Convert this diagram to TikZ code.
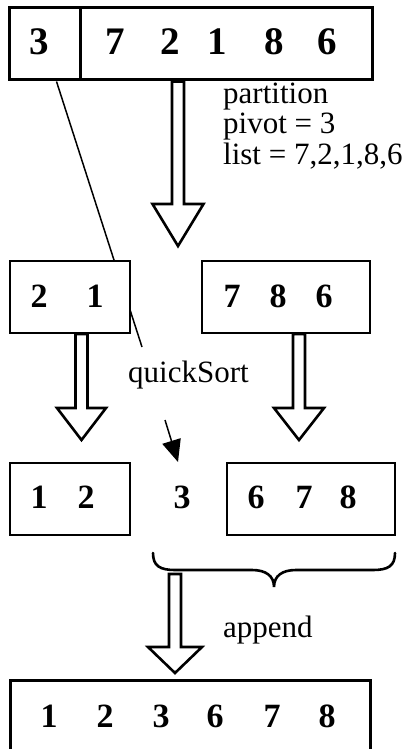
\documentclass[tikz,border=0pt]{standalone}
\usepackage{fontspec}
\setmainfont{Liberation Serif}
\usetikzlibrary{calc,arrows.meta}
\newcommand\blockarrow[4]{% tail, tip, head length, head half width
  \draw[barrow] let \p1=(#1), \p2=(#2) in
    (\x2-6pt,\y1) -- (\x2-6pt,\y2+#3) -- (\x2-#4,\y2+#3) -- (\x2,\y2)
    -- (\x2+#4,\y2+#3) -- (\x2+6pt,\y2+#3) -- (\x2+6pt,\y1) -- cycle;}
\begin{document}
\begin{tikzpicture}[x=1pt,y=-1pt,
  box/.style={draw,line width=2.2pt,fill=white,inner sep=0pt},
  bigbox/.style={box,line width=3pt},
  dig/.style={inner sep=0pt,anchor=base,font=\fontsize{34}{34}\selectfont\bfseries},
  bigdig/.style={dig,font=\fontsize{39}{39}\selectfont\bfseries},
  lbl/.style={inner sep=0pt,anchor=base west,font=\fontsize{31}{31}\selectfont},
  barrow/.style={draw,line width=2.6pt,fill=white,line join=miter},
  thinline/.style={line width=1.5pt}]
\useasboundingbox (0,0) rectangle (410,749);
\clip (0,0) rectangle (410,749);

% top list
\node[bigbox,minimum width=363pt,minimum height=72pt] (top) at (190.5,44) {};
\draw[line width=2.2pt] ([xshift=73pt]top.north west) -- ([xshift=73pt]top.south west);
\node[bigdig] (t3) at (39,55) {3};
\node[bigdig] (t7) at (115,55) {7};
\node[bigdig] (t2) at (170,55) {2};
\node[bigdig] (t1) at (217,55) {1};
\node[bigdig] (t8) at (274,55) {8};
\node[bigdig] (t6) at (327,55) {6};

% partition text
\node[lbl] (part) at (223,104) {partition};
\node[lbl] (piv) at (223,134) {pivot = 3};
\node[lbl] (lst) at (223,164) {list = 7,2,1,8,6};

% partition arrow
\coordinate (tip1) at (178,246);
\blockarrow{top.south}{tip1}{42pt}{25.5pt}

% line from pivot to quickSort label
\coordinate (qsl) at (142,347);
\draw[thinline] ([xshift=49pt]top.south west) -- (qsl);

% middle boxes
\node[box,minimum width=120pt,minimum height=72pt] (ml) at (70,297) {};
\node[dig] (m2) at (39,307) {2};
\node[dig] (m1) at (95,307) {1};
\node[box,minimum width=168pt,minimum height=72pt] (mr) at (286,297) {};
\node[dig] (m7) at (232,307) {7};
\node[dig] (m8) at (278,307) {8};
\node[dig] (m6) at (324,307) {6};

% quickSort arrows
\coordinate (tip2) at (81.5,440);
\coordinate (tip3) at (299,440);
\blockarrow{ml.south}{tip2}{32pt}{24.5pt}
\blockarrow{mr.south}{tip3}{32pt}{25pt}
\node[lbl] (qs) at (128,382) {quickSort};

% small arrow to pivot
\coordinate (sa) at (165,420);
\coordinate (sb) at (178,462);
\draw[thinline,-{Triangle[length=22pt,width=19pt]}] (sa) -- (sb);

% bottom row
\node[box,minimum width=120pt,minimum height=72pt] (bl) at (70,499) {};
\node[dig] (b1) at (39,508) {1};
\node[dig] (b2) at (86,508) {2};
\node[dig] (b3) at (182,508) {3};
\node[box,minimum width=168pt,minimum height=72pt] (br) at (311,499) {};
\node[dig] (b6) at (256,508) {6};
\node[dig] (b7) at (304,508) {7};
\node[dig] (b8) at (348,508) {8};

% brace
\draw[line width=2.6pt,line cap=round]
  (153,553) .. controls (153,566) and (160,570) .. (175,570) -- (252,570)
  .. controls (266,570) and (274,576) .. (274,587)
  .. controls (274,576) and (282,570) .. (296,570) -- (373,570)
  .. controls (388,570) and (395,566) .. (395,553);

% append arrow
\coordinate (atail) at (175.5,574);
\coordinate (tip4) at (175,673);
\blockarrow{atail}{tip4}{26pt}{27pt}
\node[lbl] (app) at (223,637) {append};

% final list
\node[bigbox,minimum width=360pt,minimum height=90pt] (fin) at (190,725) {};
\node[dig] (f1) at (49,727) {1};
\node[dig] (f2) at (105,727) {2};
\node[dig] (f3) at (161,727) {3};
\node[dig] (f6) at (215,727) {6};
\node[dig] (f7) at (272,727) {7};
\node[dig] (f8) at (327,727) {8};
\end{tikzpicture}
\end{document}
